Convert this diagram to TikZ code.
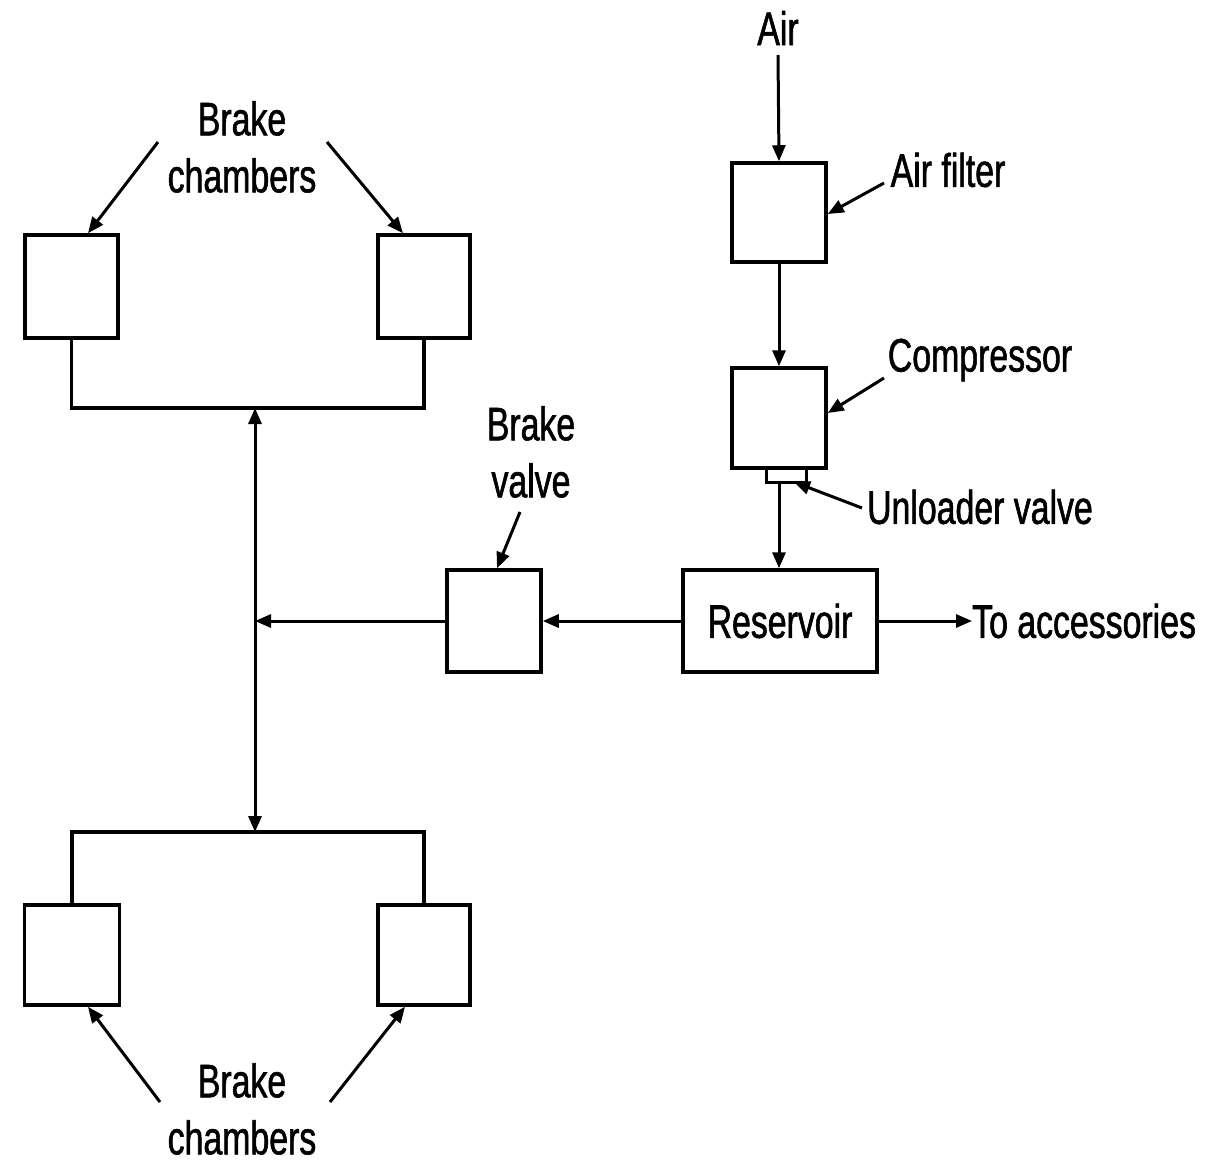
\documentclass[tikz,border=0pt]{standalone}
\usepackage{fontspec}
\setmainfont{Liberation Sans}[FakeStretch=0.72,FakeBold=1.2]
\usetikzlibrary{arrows.meta,calc}
\begin{document}
\begin{tikzpicture}[x=1pt,y=-1pt,
  box/.style={draw,line width=3.5pt,inner sep=0pt,minimum width=#1},
  lbl/.style={font=\fontsize{47}{57}\selectfont,align=center,inner sep=0pt},
  conn/.style={line width=3pt,-{Triangle[length=16pt,width=13pt]}},
  plain/.style={line width=3.2pt}]
\useasboundingbox (0,0) rectangle (1224,1163);
% boxes
\node[box=94pt,minimum height=99pt] (af) at (779,212.5) {};
\node[box=94pt,minimum height=100pt] (cp) at (779,418) {};
\node[draw,line width=3pt,inner sep=0pt,minimum width=40pt,minimum height=14pt] (uv) at (786,475) {};
\node[box=194pt,minimum height=102pt,lbl] (rs) at (780,621) {Reservoir};
\node[box=94pt,minimum height=102pt] (bv) at (494,621) {};
\node[box=93pt,minimum height=103pt] (tl) at (71.5,286.5) {};
\node[box=92pt,minimum height=103pt] (tr) at (424,286.5) {};
\node[box=95pt,minimum height=100pt] (bl) at (72,955) {};
\node[box=92pt,minimum height=100pt] (br) at (424,955) {};
% labels
\node[lbl] (air) at (778,28) {Air};
\node[lbl] (afl) at (948,170) {Air filter};
\node[lbl] (cpl) at (980,360) {Compressor};
\node[lbl] (uvl) at (980,507) {Unloader valve};
\node[lbl,anchor=west] (ta) at (972,621) {To accessories};
\node[lbl] (bvl) at (531,452) {Brake\\valve};
\node[lbl] (tcl) at (242,147) {Brake\\chambers};
\node[lbl] (bcl) at (242,1109) {Brake\\chambers};
% junctions
\coordinate (tj) at (255,408);
\coordinate (bj) at (255,832);
\coordinate (a0) at (778,55);
% main flow
\draw[conn] (a0) -- (af.north);
\draw[conn] (af.south) -- (cp.north);
\draw[conn] (uv.south -| cp.south) -- (rs.north -| cp.south);
\draw[conn] (rs.east) -- (ta.west);
\draw[conn] (rs.west) -- (bv.east);
\draw[conn] (bv.west) -- (bv.west -| tj);
\draw[line width=3pt,{Triangle[length=16pt,width=13pt]}-{Triangle[length=16pt,width=13pt]}] (tj) -- (bj);
\draw[plain] (tl.south) |- (tj) -| (tr.south);
\draw[plain] (bl.north) |- (bj) -| (br.north);
% pointer arrows
\coordinate (p1) at (884,183);
\coordinate (p2) at (884,378);
\coordinate (p3) at (862,508);
\coordinate (p4) at (520,512);
\coordinate (p5) at (158,142);
\coordinate (p6) at (327,142);
\coordinate (p7) at (160,1102);
\coordinate (p8) at (330,1102);
\draw[conn] (p1) -- (af.east |- 0,214);
\draw[conn] (p2) -- (cp.east |- 0,413);
\draw[conn] (p3) -- (794,482);
\draw[conn] (p4) -- (bv.north -| 497,0);
\draw[conn] (p5) -- (tl.north -| 88,0);
\draw[conn] (p6) -- (tr.north -| 403,0);
\draw[conn] (p7) -- (bl.south -| 88,0);
\draw[conn] (p8) -- (br.south -| 405,0);
\end{tikzpicture}
\end{document}
